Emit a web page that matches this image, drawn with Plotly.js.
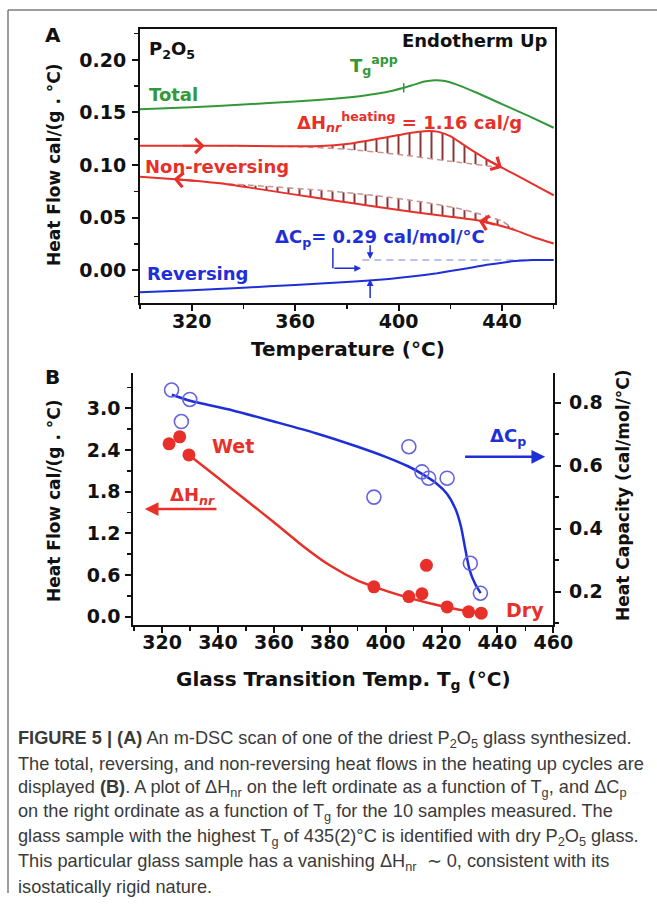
<!DOCTYPE html>
<html>
<head>
<meta charset="utf-8">
<script src="https://cdn.plot.ly/plotly-3.0.1.min.js"></script>
<style>html,body{margin:0;padding:0;background:#fff;}</style>
</head>
<body>
<div id="chart" style="width:657px;height:908px;"></div>
<script>
// ---------- Panel A: m-DSC scan of dry P2O5 glass (heat flow, cal/(g.°C)) ----------
const totalT  = [300, 320, 340, 360, 375, 385, 392, 398, 402, 406, 410, 414, 418, 422, 430, 440, 450, 460];
const totalHF = [0.1530, 0.1550, 0.1575, 0.1605, 0.1630, 0.1655, 0.1680, 0.1710, 0.1735, 0.1765, 0.1795, 0.1808, 0.1800, 0.1770, 0.1690, 0.1580, 0.1470, 0.1355];

// non-reversing, heating scan
const heatT  = [300, 315, 330, 345, 360, 370, 380, 388, 395, 400, 405, 410, 415, 420, 425, 430, 435, 440, 445, 450, 455, 460];
const heatHF = [0.1183, 0.1183, 0.1183, 0.1181, 0.1178, 0.1180, 0.1200, 0.1232, 0.1262, 0.1285, 0.1308, 0.1322, 0.1318, 0.1275, 0.1195, 0.1115, 0.1040, 0.0975, 0.0910, 0.0845, 0.0778, 0.0712];
const heatBaseT  = [330, 360, 380, 400, 420, 440];
const heatBaseHF = [0.1183, 0.1175, 0.1150, 0.1100, 0.1035, 0.0975];

// non-reversing, cooling scan
const coolT  = [300, 315, 330, 345, 360, 375, 390, 405, 420, 433, 445, 452, 460];
const coolHF = [0.0889, 0.0862, 0.0828, 0.0775, 0.0718, 0.0662, 0.0608, 0.0555, 0.0508, 0.0462, 0.0380, 0.0315, 0.0252];
const coolBaseT  = [330, 350, 370, 390, 410, 425, 440, 445];
const coolBaseHF = [0.0828, 0.0795, 0.0760, 0.0712, 0.0645, 0.0575, 0.0465, 0.0380];

// reversing heat flow and its high-temperature level
const revT  = [300, 320, 340, 360, 380, 395, 405, 415, 425, 435, 445, 452, 460];
const revHF = [-0.0212, -0.0192, -0.0168, -0.0143, -0.0115, -0.0088, -0.0062, -0.0030, 0.0010, 0.0052, 0.0085, 0.0095, 0.0095];
const revStepT  = [386, 450];
const revStepHF = [0.0095, 0.0095];

const tgApp = 402;      // apparent Tg marked on the total curve
const cpStepT = 389;    // temperature of the ΔCp step markers

// ---------- Panel B: ΔHnr and ΔCp versus Tg for the 10 samples ----------
const sampleTg   = [322.5, 326.3, 329.6, 395.8, 408.3, 413.0, 414.6, 422.0, 429.7, 434.2];
const sampleDHnr = [2.49, 2.59, 2.33, 0.43, 0.29, 0.33, 0.74, 0.14, 0.07, 0.05];
const cpTg       = [323.4, 326.9, 329.9, 395.8, 408.3, 413.0, 415.4, 422.0, 430.3, 433.9];
const sampleDCp  = [0.84, 0.74, 0.81, 0.50, 0.66, 0.58, 0.56, 0.56, 0.29, 0.195];

const fitHnrT = [329.6, 340, 350, 360, 370, 380, 390, 396, 405, 415, 425, 434];
const fitHnr  = [2.33, 2.00, 1.68, 1.36, 1.03, 0.74, 0.52, 0.43, 0.31, 0.20, 0.11, 0.05];
const fitCpT  = [323.5, 330, 345, 360, 375, 390, 400, 408, 413, 418, 422, 425, 427, 428.5, 430, 432, 434];
const fitCp   = [0.825, 0.806, 0.776, 0.740, 0.703, 0.660, 0.628, 0.598, 0.574, 0.545, 0.510, 0.462, 0.405, 0.335, 0.270, 0.225, 0.195];

// ---------- caption ----------
const captionLines = [
  "<b>FIGURE 5 | (A)</b> An m-DSC scan of one of the driest P<sub>2</sub>O<sub>5</sub> glass synthesized.",
  "The total, reversing, and non-reversing heat flows in the heating up cycles are",
  "displayed <b>(B)</b>. A plot of ΔH<sub>nr</sub> on the left ordinate as a function of T<sub>g</sub>, and ΔC<sub>p</sub>",
  "on the right ordinate as a function of T<sub>g</sub> for the 10 samples measured. The",
  "glass sample with the highest T<sub>g</sub> of 435(2)°C is identified with dry P<sub>2</sub>O<sub>5</sub> glass.",
  "This particular glass sample has a vanishing ΔH<sub>nr</sub>  ∼ 0, consistent with its",
  "isostatically rigid nature."
];

// ---------- helpers ----------
const W = 657, H = 908;
const fx = px => px / W;
const fy = py => 1 - py / H;
function interp(xs, ys, x) {
  for (let i = 1; i < xs.length; i++) {
    if (x <= xs[i]) { const t = (x - xs[i-1]) / (xs[i] - xs[i-1]); return ys[i-1] + t * (ys[i] - ys[i-1]); }
  }
  return ys[ys.length - 1];
}
function segment(xs, ys, lo, hi) {
  const sx = [], sy = [];
  xs.forEach((x, i) => { if (x >= lo && x <= hi) { sx.push(x); sy.push(ys[i]); } });
  return {x: sx, y: sy};
}

const RED = '#e8302a', GREEN = '#33983a', BLUE = '#1f2fd8', HATCH = '#8a3434', BASE = '#c99494';
const FONT = 'DejaVu Sans';
const boldFont = (size, color) => ({family: FONT, size: size, color: color, weight: 'bold'});

const heatSeg = segment(heatT, heatHF, heatBaseT[0], heatBaseT[heatBaseT.length-1]);
const coolSeg = segment(coolT, coolHF, coolBaseT[0], coolBaseT[coolBaseT.length-1]);
const hatch = {shape: '|', fgcolor: HATCH, bgcolor: 'rgba(0,0,0,0)', size: 11, solidity: 0.18};
const spl = {shape: 'spline', smoothing: 0.6};

const traces = [
  // panel A
  {x: totalT, y: totalHF, xaxis: 'x', yaxis: 'y', mode: 'lines', line: Object.assign({color: GREEN, width: 2}, spl)},
  {x: heatBaseT, y: heatBaseHF, xaxis: 'x', yaxis: 'y', mode: 'lines', line: Object.assign({color: BASE, width: 1.5, dash: '6px,4px'}, spl)},
  {x: heatSeg.x, y: heatSeg.y, xaxis: 'x', yaxis: 'y', mode: 'lines', line: Object.assign({color: 'rgba(0,0,0,0)', width: 0}, spl),
   fill: 'tonexty', fillcolor: 'rgba(0,0,0,0)', fillpattern: hatch},
  {x: heatT, y: heatHF, xaxis: 'x', yaxis: 'y', mode: 'lines', line: Object.assign({color: RED, width: 2}, spl)},
  {x: coolBaseT, y: coolBaseHF, xaxis: 'x', yaxis: 'y', mode: 'lines', line: Object.assign({color: BASE, width: 1.5, dash: '6px,4px'}, spl)},
  {x: coolSeg.x, y: coolSeg.y, xaxis: 'x', yaxis: 'y', mode: 'lines', line: Object.assign({color: 'rgba(0,0,0,0)', width: 0}, spl),
   fill: 'tonexty', fillcolor: 'rgba(0,0,0,0)', fillpattern: hatch},
  {x: coolT, y: coolHF, xaxis: 'x', yaxis: 'y', mode: 'lines', line: Object.assign({color: RED, width: 2}, spl)},
  {x: revStepT, y: revStepHF, xaxis: 'x', yaxis: 'y', mode: 'lines', line: {color: '#a8acea', width: 1.5, dash: '7px,5px'}},
  {x: revT, y: revHF, xaxis: 'x', yaxis: 'y', mode: 'lines', line: Object.assign({color: BLUE, width: 2}, spl)},
  // panel B
  {x: fitCpT, y: fitCp, xaxis: 'x2', yaxis: 'y3', mode: 'lines', line: Object.assign({color: BLUE, width: 2.5}, spl)},
  {x: cpTg, y: sampleDCp, xaxis: 'x2', yaxis: 'y3', mode: 'markers',
   marker: {symbol: 'circle-open', size: 14, color: '#6464e0', line: {width: 1.6}}},
  {x: fitHnrT, y: fitHnr, xaxis: 'x2', yaxis: 'y2', mode: 'lines', line: Object.assign({color: RED, width: 2.5}, spl)},
  {x: sampleTg, y: sampleDHnr, xaxis: 'x2', yaxis: 'y2', mode: 'markers',
   marker: {symbol: 'circle', size: 13, color: RED, line: {width: 0}}}
];

const axBase = {
  showgrid: false, zeroline: false, showline: true, linecolor: '#111', linewidth: 2,
  ticks: 'outside', ticklen: 6, tickwidth: 2, tickcolor: '#111',
  tickfont: boldFont(19, '#111'), fixedrange: true
};
const minorOut = dt => ({dtick: dt, ticks: 'outside', ticklen: 4, tickwidth: 1.5, tickcolor: '#111', showgrid: false});

const layout = {
  width: W, height: H, margin: {l: 0, r: 0, t: 0, b: 0},
  paper_bgcolor: '#fff', plot_bgcolor: 'rgba(0,0,0,0)', showlegend: false,
  xaxis: Object.assign({}, axBase, {domain: [fx(140), fx(555)], anchor: 'y', range: [300, 460.5],
    tick0: 0, dtick: 40, mirror: true, minor: minorOut(20), ticklabelstandoff: -6}),
  yaxis: Object.assign({}, axBase, {domain: [fy(303), fy(29)], anchor: 'x', range: [-0.0314, 0.2295],
    tick0: 0, dtick: 0.05, tickformat: '.2f', mirror: true, minor: minorOut(0.025), ticklabelstandoff: 2}),
  xaxis2: Object.assign({}, axBase, {domain: [fx(133.3), fx(553.3)], anchor: 'y2', range: [309.7, 460],
    tick0: 0, dtick: 20, minor: minorOut(10), ticklabelstandoff: -7}),
  xaxis3: Object.assign({}, axBase, {overlaying: 'x2', side: 'top', anchor: 'y2', range: [309.7, 460],
    tick0: 0, dtick: 10, ticks: 'inside', ticklen: 5, tickwidth: 1.5, showticklabels: false}),
  yaxis2: Object.assign({}, axBase, {domain: [fy(625), fy(372.7)], anchor: 'x2', range: [-0.12, 3.514],
    tick0: 0, dtick: 0.6, tickformat: '.1f', minor: minorOut(0.3), ticklabelstandoff: 1}),
  yaxis3: Object.assign({}, axBase, {overlaying: 'y2', side: 'right', anchor: 'x2', range: [0.094, 0.895],
    tick0: 0, dtick: 0.2, tickformat: '.1f', minor: minorOut(0.1), ticklabelstandoff: 4}),
  shapes: [
    // figure frame
    {type: 'line', xref: 'paper', yref: 'paper', x0: fx(8), x1: 1, y0: fy(10), y1: fy(10), line: {color: '#7d7d7d', width: 1.5}},
    {type: 'line', xref: 'paper', yref: 'paper', x0: fx(8), x1: fx(8), y0: fy(10), y1: fy(893), line: {color: '#7d7d7d', width: 1.5}},
    // apparent Tg mark
    {type: 'line', xref: 'x', yref: 'y', x0: tgApp, x1: tgApp,
     y0: interp(totalT, totalHF, tgApp) - 0.0045, y1: interp(totalT, totalHF, tgApp) + 0.0045, line: {color: GREEN, width: 1.5}},
    // ΔCp bracket
    {type: 'line', xref: 'x', yref: 'y', x0: 374.6, x1: 374.6, y0: 0.021, y1: 0.0016, line: {color: BLUE, width: 1.5}}
  ],
  annotations: []
};

const ann = layout.annotations;
function label(xref, yref, x, y, text, size, color, xanchor, extra) {
  ann.push(Object.assign({xref: xref, yref: yref, x: x, y: y, text: text, showarrow: false,
    xanchor: xanchor || 'left', yanchor: 'middle', font: boldFont(size, color)}, extra || {}));
}
function arrow(xref, yref, tipX, tipY, tailX, tailY, color, head, size, width) {
  ann.push({xref: xref, yref: yref, axref: xref, ayref: yref, x: tipX, y: tipY, ax: tailX, ay: tailY,
    text: '', showarrow: true, arrowhead: head, arrowsize: size, arrowwidth: width, arrowcolor: color, standoff: 0, startstandoff: 0});
}

// panel letters and axis titles
label('paper', 'paper', fx(53), fy(35), 'A', 20, '#111', 'center');
label('paper', 'paper', fx(52), fy(377), 'B', 20, '#111', 'center');
label('paper', 'paper', fx(54), fy(165), 'Heat Flow cal/(g . °C)', 17, '#111', 'center', {textangle: -90});
label('paper', 'paper', fx(347.5), fy(349), 'Temperature (°C)', 20, '#111', 'center');
label('paper', 'paper', fx(54), fy(501), 'Heat Flow cal/(g . °C)', 17, '#111', 'center', {textangle: -90});
label('paper', 'paper', fx(623), fy(496), 'Heat Capacity (cal/mol/°C)', 17, '#111', 'center', {textangle: -90});
label('paper', 'paper', fx(343), fy(680), 'Glass Transition Temp. T<sub>g</sub> (°C)', 20, '#111', 'center');

// panel A labels
label('x', 'y', 302.7, 0.2095, 'P<sub>2</sub>O<sub>5</sub>', 18, '#111');
label('x', 'y', 458.7, 0.2190, 'Endotherm Up', 18, '#111', 'right');
label('x', 'y', 380.5, 0.1950, 'T<sub>g</sub><sup>app</sup>', 18, GREEN);
label('x', 'y', 302.7, 0.1667, 'Total', 18, GREEN);
label('x', 'y', 360.0, 0.1410, 'ΔH<sub><i>nr</i></sub><sup>heating</sup> = 1.16 cal/g', 18, RED);
label('x', 'y', 301.2, 0.0990, 'Non-reversing', 18, RED);
label('x', 'y', 301.9, -0.0030, 'Reversing', 18, BLUE);
label('x', 'y', 351.5, 0.0305, 'ΔC<sub>p</sub>= 0.29 cal/mol/°C', 18, BLUE);

// direction chevrons on the non-reversing scans
arrow('x', 'y', 325, interp(heatT, heatHF, 325), 316, interp(heatT, heatHF, 316), RED, 4, 1.4, 2);
arrow('x', 'y', 440, interp(heatT, heatHF, 440), 434, interp(heatT, heatHF, 434), RED, 4, 1.4, 2);
arrow('x', 'y', 313, interp(coolT, coolHF, 313), 322, interp(coolT, coolHF, 322), RED, 4, 1.4, 2);
arrow('x', 'y', 431, interp(coolT, coolHF, 431), 438, interp(coolT, coolHF, 438), RED, 4, 1.4, 2);
// ΔCp step markers
arrow('x', 'y', 385.5, 0.0016, 374.6, 0.0016, BLUE, 2, 0.9, 1.5);
arrow('x', 'y', cpStepT, revStepHF[0] + 0.001, cpStepT, 0.025, BLUE, 2, 0.9, 1.5);
arrow('x', 'y', cpStepT, interp(revT, revHF, cpStepT) + 0.001, cpStepT, -0.028, BLUE, 2, 0.9, 1.5);

// panel B labels
label('x2', 'y2', 337.0, 2.458, 'Wet', 19, RED);
label('x2', 'y2', 442.2, 0.096, 'Dry', 19, RED);
label('x2', 'y2', 322.0, 1.740, 'ΔH<sub><i>nr</i></sub>', 18, RED);
label('x2', 'y3', 436.8, 0.691, 'ΔC<sub>p</sub>', 18, BLUE);
arrow('x2', 'y2', 313.8, 1.55, 340.0, 1.55, RED, 2, 1.1, 2.5);
arrow('x2', 'y3', 457.1, 0.628, 427.9, 0.628, BLUE, 2, 1.1, 2.5);

// caption
captionLines.forEach((t, i) => {
  ann.push({xref: 'paper', yref: 'paper', x: fx(16), y: fy(739 + i * 24.6), xanchor: 'left', yanchor: 'middle',
    text: t, showarrow: false, align: 'left',
    font: {family: "'Liberation Sans', Arial, sans-serif", size: 18.2, color: '#3a3a3a'}});
});

Plotly.newPlot('chart', traces, layout, {staticPlot: true, displayModeBar: false});
</script>
</body>
</html>
